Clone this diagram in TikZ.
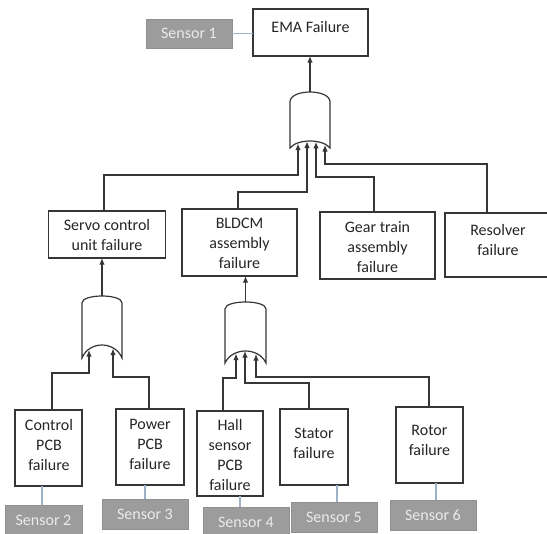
\documentclass[tikz,border=0pt]{standalone}
\usepackage{fontspec}
\setmainfont{Carlito}
\usetikzlibrary{arrows.meta,calc}
\definecolor{ink}{HTML}{363636}
\definecolor{lbl}{HTML}{262626}
\definecolor{sensfill}{HTML}{9C9C9C}
\definecolor{senstext}{HTML}{EBEBEB}
\definecolor{tap}{HTML}{9DB2C6}
% OR gate pointing upwards: left x, right x, dome peak y, shoulder y, foot y, inner arc peak y
\newcommand\drawgate[6]{%
  \pgfmathsetmacro\gtop{(8*#3-2*#4)/6}%
  \pgfmathsetmacro\gbot{(8*#6-2*#5)/6}%
  \pgfmathsetmacro\gin{(#2-#1)*0.18}%
  \draw[gate] (#1,#5) -- (#1,#4) .. controls (#1,\gtop) and (#2,\gtop) .. (#2,#4)
    -- (#2,#5) .. controls ({#2-\gin},\gbot) and ({#1+\gin},\gbot) .. cycle;}
\begin{document}
\begin{tikzpicture}[x=0.75pt,y=-0.75pt,
  every node/.style={inner sep=0pt,outer sep=0pt},
  sz/.style 2 args={minimum width=#1*0.75pt,minimum height=#2*0.75pt},
  box/.style={rectangle,draw=ink,line width=0.9pt,fill=white},
  txt/.style={align=center,font=\fontsize{12}{15}\selectfont,text=lbl},
  sensor/.style={rectangle,fill=sensfill,draw=sensfill!92!black,line width=0.4pt,
    font=\fontsize{12}{15}\selectfont,text=senstext},
  wire/.style={draw=ink,line width=0.9pt},
  feed/.style={wire,-{Latex[length=5pt,width=4.2pt]}},
  tapline/.style={draw=tap,line width=0.8pt},
  gate/.style={draw=ink,line width=0.9pt,fill=white}]
\useasboundingbox (0,0) rectangle (547,533);
\clip (0,0) rectangle (547,533);

% ---- event boxes ----
\node[box,sz={115}{47}] (ema) at (310.5,32.5) {};
\node[txt] (ema-t) at (310.5,27) {EMA Failure};

\node[box,sz={117}{47}] (servo) at (107,234.5) {};
\node[txt] (servo-t) at (107,235) {Servo control\\unit failure};
\node[box,sz={115}{67}] (bldcm) at (239.5,242.5) {};
\node[txt] (bldcm-t) at (239.5,243.5) {BLDCM\\assembly\\failure};
\node[box,sz={115}{67}] (gear) at (377.5,245.5) {};
\node[txt] (gear-t) at (377.5,247.5) {Gear train\\assembly\\failure};
\node[box,sz={110}{64}] (resolver) at (500,245) {};
\node[txt] (resolver-t) at (498,239.5) {Resolver\\failure};

\node[box,sz={67}{76}] (ctrl) at (48.5,448) {};
\node[txt] (ctrl-t) at (49,444.5) {Control\\PCB\\failure};
\node[box,sz={68}{76}] (power) at (150,447) {};
\node[txt] (power-t) at (150,444) {Power\\PCB\\failure};
\node[box,sz={66}{85}] (hall) at (230,453.5) {};
\node[txt] (hall-t) at (230,455) {Hall\\sensor\\PCB\\failure};
\node[box,sz={68}{76}] (stator) at (314,447) {};
\node[txt] (stator-t) at (314,443) {Stator\\failure};
\node[box,sz={67}{76}] (rotor) at (429.5,445) {};
\node[txt] (rotor-t) at (429.5,440) {Rotor\\failure};

% ---- sensors ----
\node[sensor,sz={86}{29}] (s1) at (189,33.5) {Sensor 1};
\node[sensor,sz={77}{30}] (s2) at (43.5,520) {Sensor 2};
\node[sensor,sz={86}{30}] (s3) at (145,514) {Sensor 3};
\node[sensor,sz={86}{30}] (s4) at (246,522) {Sensor 4};
\node[sensor,sz={86}{30}] (s5) at (334,517) {Sensor 5};
\node[sensor,sz={86}{30}] (s6) at (433,515) {Sensor 6};

% ---- gates ----
\drawgate{290}{330}{92}{102}{148}{141}
\drawgate{82}{122}{296}{303}{358}{345}
\drawgate{225}{266}{302}{309}{363}{351}

\coordinate (g1out) at (310,92);
\coordinate (g1a) at (298,143.5);
\coordinate (g1b) at (307,141.4);
\coordinate (g1c) at (316,141.8);
\coordinate (g1d) at (325,144.9);

\coordinate (g2out) at (102,296);
\coordinate (g2a) at (89,350);
\coordinate (g2b) at (113,348.5);

\coordinate (g3out) at (245.5,302);
\coordinate (g3a) at (236,353.5);
\coordinate (g3b) at (245,351);
\coordinate (g3c) at (256,354);

% ---- gate outputs ----
\draw[feed] (g1out) -- (g1out |- ema.south);
\draw[feed] (g2out) -- (g2out |- servo.south);
\draw[feed] (g3out) -- (g3out |- bldcm.south);

% ---- top gate inputs ----
\draw[feed] ($(servo.north)+(-3,0)$) |- ($(g1a)+(0,31.5)$) -- (g1a);
\draw[feed] ($(bldcm.north)+(-1.5,0)$) |- ($(g1b)+(0,50.6)$) -- (g1b);
\draw[feed] ($(gear.north)+(-3.5,0)$) |- ($(g1c)+(0,35.2)$) -- (g1c);
\draw[feed] ($(resolver.north)+(-13,0)$) |- ($(g1d)+(0,19.1)$) -- (g1d);

% ---- servo gate inputs ----
\draw[feed] ($(ctrl.north)+(3.5,0)$) |- ($(g2a)+(0,23)$) -- (g2a);
\draw[feed] ($(power.north)+(-1,0)$) |- ($(g2b)+(0,28.5)$) -- (g2b);

% ---- BLDCM gate inputs ----
\draw[feed] ($(hall.north)+(-7,0)$) |- ($(g3a)+(0,24.5)$) -- (g3a);
\draw[feed] ($(stator.north)+(-5,0)$) |- ($(g3b)+(0,32)$) -- (g3b);
\draw[feed] ($(rotor.north)+(-0.5,0)$) |- ($(g3c)+(0,23)$) -- (g3c);

% ---- sensor taps ----
\draw[tapline] (s1.east) -- (s1.east -| ema.west);
\coordinate (t2) at ($(ctrl.south)+(-6.5,0)$);
\coordinate (t3) at ($(power.south)+(-5,0)$);
\coordinate (t4) at ($(hall.south)+(10,0)$);
\coordinate (t5) at ($(stator.south)+(23,0)$);
\coordinate (t6) at ($(rotor.south)+(6.5,0)$);
\draw[tapline] (t2) -- (t2 |- s2.north);
\draw[tapline] (t3) -- (t3 |- s3.north);
\draw[tapline] (t4) -- (t4 |- s4.north);
\draw[tapline] (t5) -- (t5 |- s5.north);
\draw[tapline] (t6) -- (t6 |- s6.north);
\end{tikzpicture}
\end{document}
